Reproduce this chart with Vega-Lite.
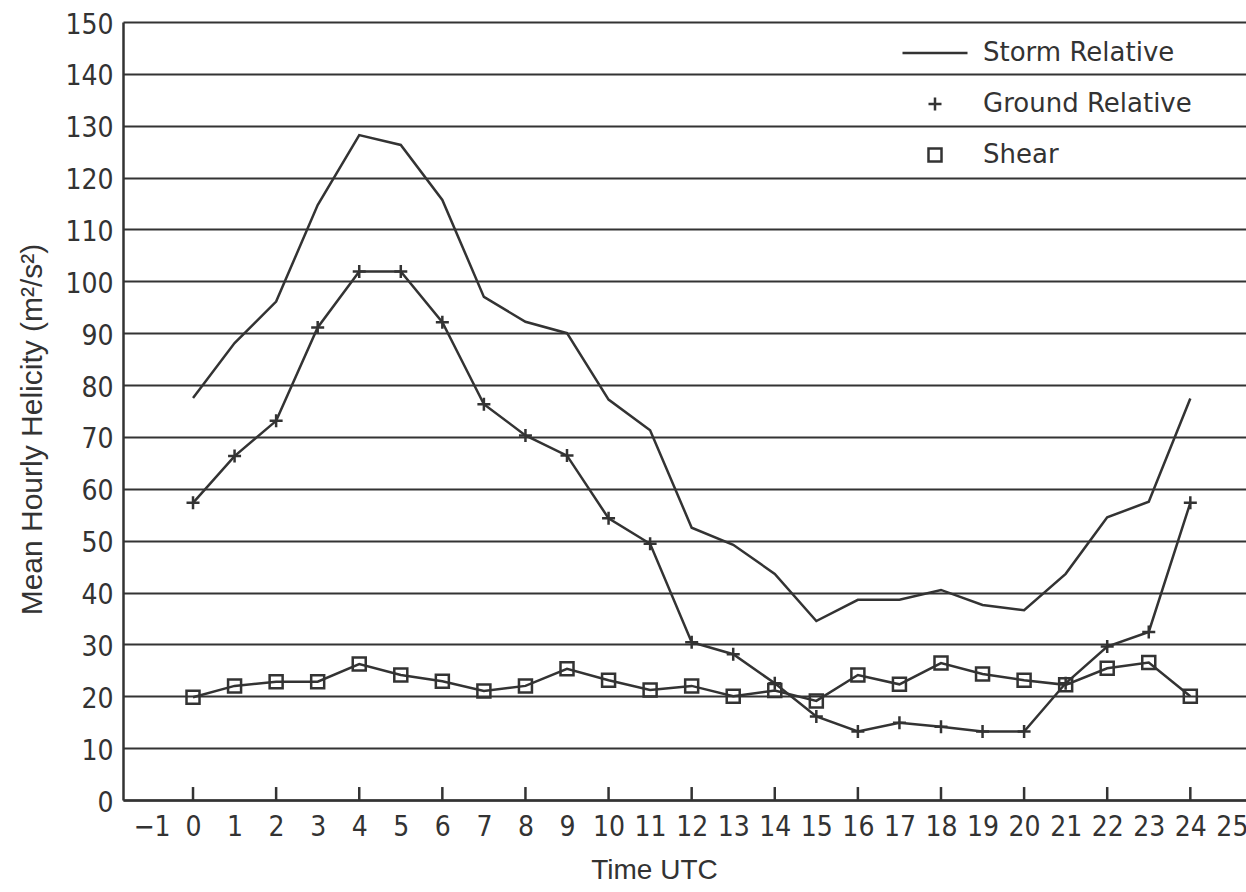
{
  "$schema": "https://vega.github.io/schema/vega-lite/v6.json",
  "width": 1123,
  "height": 778,
  "autosize": {"type": "none"},
  "padding": {"left": 123, "top": 22, "right": 0, "bottom": 92},
  "background": "white",
  "config": {
    "view": {"stroke": null},
    "axisX": {
      "values": [0, 2, 4, 6, 8, 10, 12, 14, 16, 18, 20, 22, 24],
      "grid": false,
      "domainColor": "#333",
      "domainWidth": 2.5,
      "ticks": false,
      "labelFont": "Liberation Sans Narrow, DejaVu Sans Condensed, sans-serif",
      "labelFontSize": 28,
      "labelColor": "#333",
      "labelPadding": 13,
      "labelBaseline": "top",
      "titleFont": "Liberation Sans, Arial, sans-serif",
      "titleFontSize": 28,
      "titleFontWeight": "normal",
      "titleColor": "#333",
      "titleAnchor": "start",
      "titleAlign": "center",
      "titleBaseline": "alphabetic",
      "titleX": 531,
      "titleY": 78
    },
    "axisY": {
      "values": [0, 30, 60, 90, 120, 150],
      "grid": true,
      "gridColor": "#333",
      "gridWidth": 2,
      "gridOpacity": 1,
      "domainColor": "#333",
      "domainWidth": 2.5,
      "ticks": false,
      "labelFont": "Liberation Sans Narrow, DejaVu Sans Condensed, sans-serif",
      "labelFontSize": 28,
      "labelColor": "#333",
      "labelPadding": 10,
      "labelOffset": 3,
      "labelBaseline": "middle",
      "titleFont": "Liberation Sans, Arial, sans-serif",
      "titleFontSize": 30,
      "titleFontWeight": "normal",
      "titleColor": "#333",
      "titleAngle": -90,
      "titleAlign": "center",
      "titleBaseline": "alphabetic",
      "titleX": -82,
      "titleY": 407
    }
  },
  "datasets": {
    "helicity": [
      {"hour": 0, "series": "Storm Relative", "value": 77.5},
      {"hour": 1, "series": "Storm Relative", "value": 88.1},
      {"hour": 2, "series": "Storm Relative", "value": 96.1},
      {"hour": 3, "series": "Storm Relative", "value": 114.7},
      {"hour": 4, "series": "Storm Relative", "value": 128.2},
      {"hour": 5, "series": "Storm Relative", "value": 126.3},
      {"hour": 6, "series": "Storm Relative", "value": 115.7},
      {"hour": 7, "series": "Storm Relative", "value": 97.0},
      {"hour": 8, "series": "Storm Relative", "value": 92.2},
      {"hour": 9, "series": "Storm Relative", "value": 90.0},
      {"hour": 10, "series": "Storm Relative", "value": 77.2},
      {"hour": 11, "series": "Storm Relative", "value": 71.3},
      {"hour": 12, "series": "Storm Relative", "value": 52.5},
      {"hour": 13, "series": "Storm Relative", "value": 49.2},
      {"hour": 14, "series": "Storm Relative", "value": 43.6},
      {"hour": 15, "series": "Storm Relative", "value": 34.5},
      {"hour": 16, "series": "Storm Relative", "value": 38.6},
      {"hour": 17, "series": "Storm Relative", "value": 38.6},
      {"hour": 18, "series": "Storm Relative", "value": 40.5},
      {"hour": 19, "series": "Storm Relative", "value": 37.6},
      {"hour": 20, "series": "Storm Relative", "value": 36.6},
      {"hour": 21, "series": "Storm Relative", "value": 43.6},
      {"hour": 22, "series": "Storm Relative", "value": 54.5},
      {"hour": 23, "series": "Storm Relative", "value": 57.5},
      {"hour": 24, "series": "Storm Relative", "value": 77.4},
      {"hour": 0, "series": "Ground Relative", "value": 57.3},
      {"hour": 1, "series": "Ground Relative", "value": 66.3},
      {"hour": 2, "series": "Ground Relative", "value": 73.1},
      {"hour": 3, "series": "Ground Relative", "value": 91.1},
      {"hour": 4, "series": "Ground Relative", "value": 101.9},
      {"hour": 5, "series": "Ground Relative", "value": 101.9},
      {"hour": 6, "series": "Ground Relative", "value": 92.1},
      {"hour": 7, "series": "Ground Relative", "value": 76.3},
      {"hour": 8, "series": "Ground Relative", "value": 70.3},
      {"hour": 9, "series": "Ground Relative", "value": 66.4},
      {"hour": 10, "series": "Ground Relative", "value": 54.3},
      {"hour": 11, "series": "Ground Relative", "value": 49.4},
      {"hour": 12, "series": "Ground Relative", "value": 30.4},
      {"hour": 13, "series": "Ground Relative", "value": 28.1},
      {"hour": 14, "series": "Ground Relative", "value": 22.5},
      {"hour": 15, "series": "Ground Relative", "value": 16.1},
      {"hour": 16, "series": "Ground Relative", "value": 13.2},
      {"hour": 17, "series": "Ground Relative", "value": 14.9},
      {"hour": 18, "series": "Ground Relative", "value": 14.1},
      {"hour": 19, "series": "Ground Relative", "value": 13.2},
      {"hour": 20, "series": "Ground Relative", "value": 13.2},
      {"hour": 21, "series": "Ground Relative", "value": 22.5},
      {"hour": 22, "series": "Ground Relative", "value": 29.6},
      {"hour": 23, "series": "Ground Relative", "value": 32.4},
      {"hour": 24, "series": "Ground Relative", "value": 57.3},
      {"hour": 0, "series": "Shear", "value": 19.8},
      {"hour": 1, "series": "Shear", "value": 22.0},
      {"hour": 2, "series": "Shear", "value": 22.8},
      {"hour": 3, "series": "Shear", "value": 22.8},
      {"hour": 4, "series": "Shear", "value": 26.2},
      {"hour": 5, "series": "Shear", "value": 24.1},
      {"hour": 6, "series": "Shear", "value": 22.9},
      {"hour": 7, "series": "Shear", "value": 21.0},
      {"hour": 8, "series": "Shear", "value": 22.0},
      {"hour": 9, "series": "Shear", "value": 25.3},
      {"hour": 10, "series": "Shear", "value": 23.1},
      {"hour": 11, "series": "Shear", "value": 21.2},
      {"hour": 12, "series": "Shear", "value": 22.0},
      {"hour": 13, "series": "Shear", "value": 20.0},
      {"hour": 14, "series": "Shear", "value": 21.1},
      {"hour": 15, "series": "Shear", "value": 19.1},
      {"hour": 16, "series": "Shear", "value": 24.1},
      {"hour": 17, "series": "Shear", "value": 22.3},
      {"hour": 18, "series": "Shear", "value": 26.4},
      {"hour": 19, "series": "Shear", "value": 24.3},
      {"hour": 20, "series": "Shear", "value": 23.1},
      {"hour": 21, "series": "Shear", "value": 22.2},
      {"hour": 22, "series": "Shear", "value": 25.4},
      {"hour": 23, "series": "Shear", "value": 26.5},
      {"hour": 24, "series": "Shear", "value": 20.0}
    ]
  },
  "layer": [
    {
      "data": {"values": [
        {"tick": 0}, {"tick": 2}, {"tick": 4}, {"tick": 6}, {"tick": 8}, {"tick": 10}, {"tick": 12},
        {"tick": 14}, {"tick": 16}, {"tick": 18}, {"tick": 20}, {"tick": 22}, {"tick": 24}
      ]},
      "mark": {"type": "rule", "color": "#333", "strokeWidth": 2.5},
      "encoding": {
        "x": {"field": "tick", "type": "quantitative", "title": "Time UTC", "scale": {"domain": [-1.685, 25.34], "nice": false, "zero": false}},
        "y": {"datum": 0, "type": "quantitative", "title": "Mean Hourly Helicity (m²/s²)", "scale": {"domain": [0, 150], "nice": false}},
        "y2": {"datum": 2.5}
      }
    },
    {
      "data": {"name": "helicity"},
      "mark": {"type": "line", "color": "#333", "strokeWidth": 2.5},
      "encoding": {
        "x": {"field": "hour", "type": "quantitative", "title": "Time UTC", "scale": {"domain": [-1.685, 25.34], "nice": false, "zero": false}},
        "y": {"field": "value", "type": "quantitative", "title": "Mean Hourly Helicity (m²/s²)", "scale": {"domain": [0, 150], "nice": false}},
        "detail": {"field": "series", "type": "nominal"}
      }
    },
    {
      "data": {"name": "helicity"},
      "transform": [{"filter": "datum.series !== 'Storm Relative'"}],
      "mark": {"type": "point", "filled": false, "stroke": "#333", "strokeWidth": 2.5, "opacity": 1, "size": 169},
      "encoding": {
        "x": {"field": "hour", "type": "quantitative", "title": "Time UTC"},
        "y": {"field": "value", "type": "quantitative", "title": "Mean Hourly Helicity (m²/s²)"},
        "shape": {
          "field": "series",
          "type": "nominal",
          "scale": {
            "domain": ["Storm Relative", "Ground Relative", "Shear"],
            "range": ["M-5,0L5,0", "M-1,0L1,0M0,-1L0,1", "square"]
          },
          "legend": {
            "title": null,
            "orient": "none",
            "legendX": 799,
            "legendY": 18,
            "direction": "vertical",
            "symbolSize": 169,
            "symbolStrokeColor": "#333",
            "symbolStrokeWidth": 2.5,
            "symbolFillColor": "transparent",
            "labelFont": "DejaVu Sans, sans-serif",
            "labelFontSize": 26,
            "labelColor": "#333",
            "labelLimit": 400,
            "labelOffset": 35,
            "rowPadding": 25
          }
        }
      }
    }
  ]
}
